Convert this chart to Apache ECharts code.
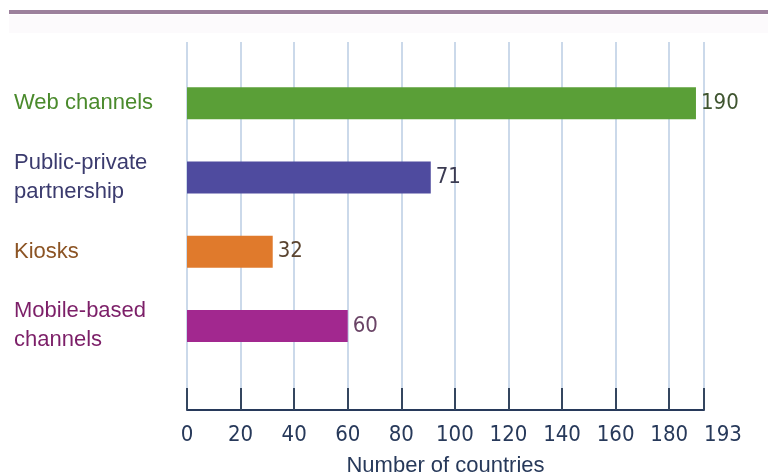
<!DOCTYPE html>
<html>
<head>
<meta charset="utf-8">
<script src="https://cdn.jsdelivr.net/npm/echarts@6/dist/echarts.min.js"></script>
<style>
html,body{margin:0;padding:0;background:#fff;}
#chart{width:768px;height:475px;}
</style>
</head>
<body>
<div id="chart"></div>
<script>
// ---- data ----
const categories = ['Web channels', 'Public-private\npartnership', 'Kiosks', 'Mobile-based\nchannels'];
// bar lengths as drawn in the reference (the Public-private bar is drawn at ~91)
const barLengths = [190, 91, 32, 60];
// numbers printed at the end of each bar
const printedLabels = ['190', '71', '32', '60'];
const xTickMax = 193;
const xTickInterval = 20;
const axisTitle = 'Number of countries';

// ---- styles ----
const barColors = ['#5a9f37', '#4f4b9f', '#e07a2c', '#a2288f'];
const textColors = ['#4a8a2c', '#3b3b6e', '#8c5424', '#7c1f68'];
const valueColors = ['#3f5530', '#3b3b52', '#5a4430', '#6a4466'];
const navy = '#27395a';
const numFont = "'DejaVu Sans Condensed', 'Liberation Sans', sans-serif";
const txtFont = "'Liberation Sans', sans-serif";

const chart = echarts.init(document.getElementById('chart'));
const gridLeft = 187, gridRight = 64;

chart.setOption({
  animation: false,
  backgroundColor: '#ffffff',
  graphic: [
    { type: 'rect', shape: { x: 9, y: 15, width: 759, height: 18 }, style: { fill: '#fcfafc' }, silent: true },
    { type: 'line', shape: { x1: 9, y1: 12, x2: 768, y2: 12 }, style: { stroke: '#9c809c', lineWidth: 4 }, silent: true }
  ],
  grid: [
    { left: gridLeft, right: gridRight, top: 42, bottom: 65, containLabel: false, outerBoundsMode: 'none' },
    { left: gridLeft, right: gridRight, top: 66, bottom: 112, containLabel: false, outerBoundsMode: 'none' }
  ],
  xAxis: [
    {
      gridIndex: 0, type: 'value', min: 0, max: xTickMax, interval: xTickInterval,
      name: axisTitle, nameLocation: 'middle', nameGap: 45,
      nameTextStyle: { fontFamily: txtFont, fontSize: 22, color: navy },
      axisLine: { show: true, lineStyle: { color: navy, width: 2 } },
      axisTick: { show: true, inside: true, length: 22, lineStyle: { color: '#34465f', width: 2 } },
      splitLine: { show: true, lineStyle: { color: '#cbd9ea', width: 2 } },
      axisLabel: {
        margin: 14, fontFamily: numFont, fontSize: 22, color: navy,
        formatter: function (v) { return v === xTickMax ? '{m|' + v + '}' : String(v); },
        rich: { m: { padding: [0, 0, 0, 38], fontFamily: numFont, fontSize: 22, color: navy } }
      }
    },
    { gridIndex: 1, type: 'value', min: 0, max: xTickMax, show: false }
  ],
  yAxis: [
    { gridIndex: 0, type: 'value', show: false, min: 0, max: 1 },
    {
      gridIndex: 1, type: 'category', data: categories, inverse: true,
      axisLine: { show: false }, axisTick: { show: false }, splitLine: { show: false },
      axisLabel: {
        align: 'left', margin: gridLeft - 14,
        fontFamily: txtFont, fontSize: 22, lineHeight: 29,
        color: function (value, index) { return textColors[index]; }
      }
    }
  ],
  series: [{
    type: 'bar', xAxisIndex: 1, yAxisIndex: 1, barWidth: 32,
    data: barLengths.map(function (v, i) {
      return { value: v, itemStyle: { color: barColors[i] }, label: { color: valueColors[i] } };
    }),
    label: {
      show: true, position: 'right', distance: 5,
      fontFamily: numFont, fontSize: 22,
      formatter: function (p) { return printedLabels[p.dataIndex]; }
    }
  }]
});
</script>
</body>
</html>
